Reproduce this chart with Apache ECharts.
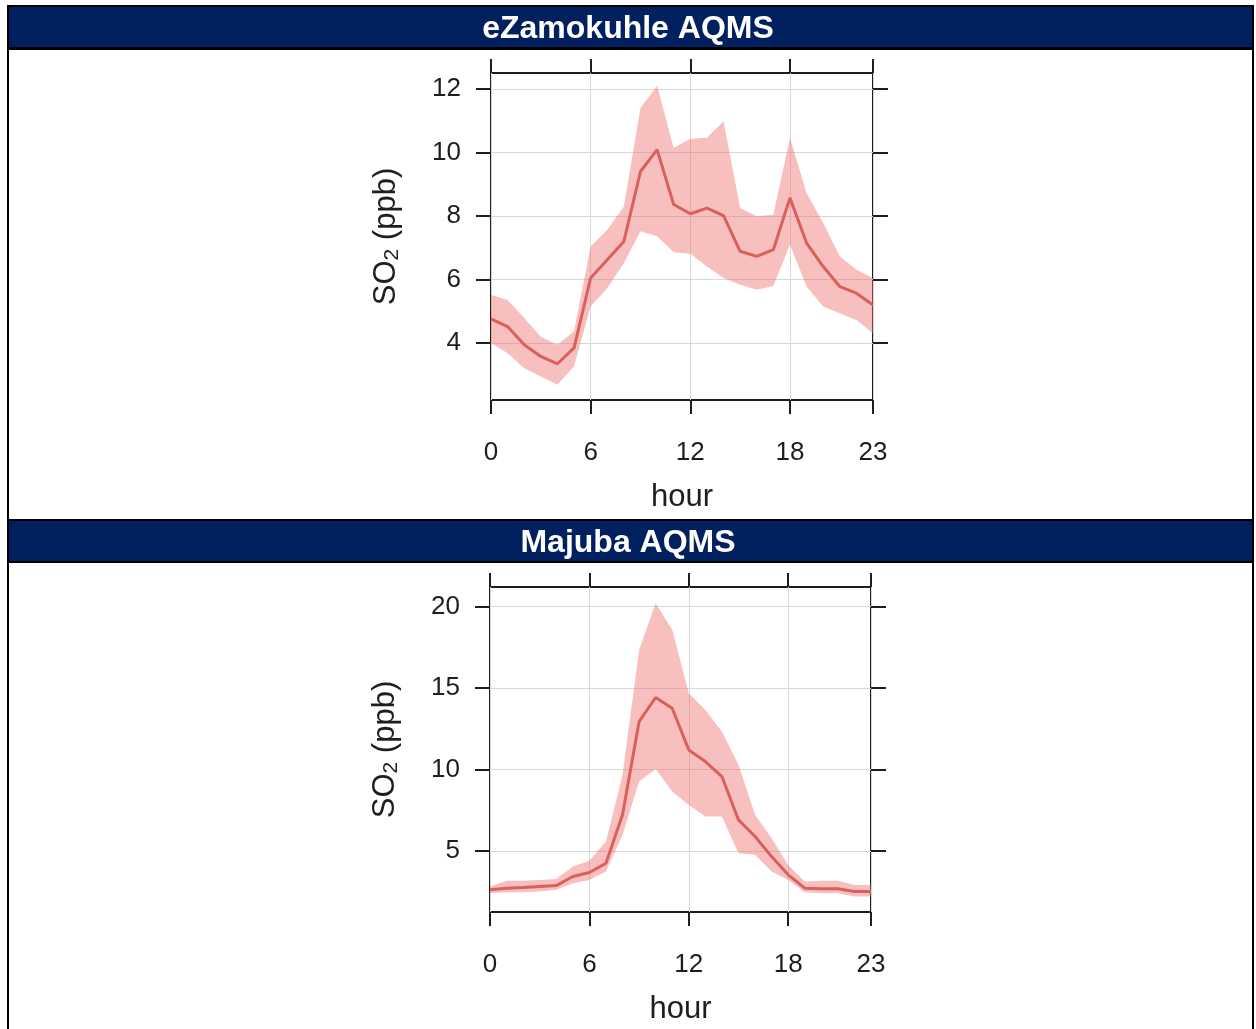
<!DOCTYPE html>
<html>
<head>
<meta charset="utf-8">
<script src="https://cdn.jsdelivr.net/npm/echarts@6/dist/echarts.min.js"></script>
<style>
  html, body { margin: 0; padding: 0; background: #ffffff; }
  #chart { width: 1256px; height: 1029px; }
</style>
</head>
<body>
<div id="chart"></div>
<script>
// Hour of day
const hours = [0, 1, 2, 3, 4, 5, 6, 7, 8, 9, 10, 11, 12, 13, 14, 15, 16, 17, 18, 19, 20, 21, 22, 23];

// eZamokuhle AQMS: diurnal SO2 mean and 95% confidence band (ppb)
const ezMean  = [4.76, 4.52, 3.95, 3.58, 3.35, 3.85, 6.05, 6.62, 7.20, 9.40, 10.09, 8.36, 8.07, 8.25, 8.01, 6.89, 6.73, 6.94, 8.57, 7.15, 6.41, 5.78, 5.57, 5.20];
const ezUpper = [5.52, 5.36, 4.79, 4.20, 3.95, 4.37, 7.04, 7.57, 8.30, 11.40, 12.10, 10.14, 10.43, 10.46, 10.98, 8.25, 7.99, 8.04, 10.46, 8.72, 7.78, 6.73, 6.31, 6.05];
const ezLower = [4.00, 3.68, 3.21, 2.95, 2.69, 3.27, 5.15, 5.73, 6.52, 7.52, 7.36, 6.86, 6.81, 6.41, 6.05, 5.84, 5.68, 5.80, 7.10, 5.78, 5.15, 4.94, 4.73, 4.31];

// Majuba AQMS: diurnal SO2 mean and 95% confidence band (ppb)
const mjMean  = [2.62, 2.72, 2.76, 2.82, 2.88, 3.44, 3.68, 4.25, 7.22, 12.94, 14.42, 13.76, 11.20, 10.49, 9.57, 6.91, 5.89, 4.66, 3.54, 2.72, 2.68, 2.68, 2.52, 2.52];
const mjUpper = [2.82, 3.17, 3.17, 3.23, 3.29, 4.05, 4.40, 5.58, 9.67, 17.34, 20.20, 18.57, 14.68, 13.66, 12.33, 10.29, 7.22, 5.79, 4.15, 3.13, 3.17, 3.17, 2.92, 2.92];
const mjLower = [2.41, 2.47, 2.47, 2.52, 2.62, 3.03, 3.23, 3.74, 5.99, 9.26, 10.04, 8.65, 7.83, 7.12, 7.12, 4.87, 4.77, 3.74, 3.23, 2.47, 2.41, 2.41, 2.21, 2.21];

// Tick labels
const hourTicks = [0, 6, 12, 18, 23];
const ezTicks = [4, 6, 8, 10, 12];
const mjTicks = [5, 10, 15, 20];

const stationNames = ['eZamokuhle AQMS', 'Majuba AQMS'];

const FONT = "'Liberation Sans', Arial, Helvetica, sans-serif";
const TEXT = '#1e1e1e';
const LINE_COLOR = '#d9605d';
const BAND_COLOR = 'rgba(240,112,112,0.45)';
const NAVY = '#002060';

const pairs = (vals) => hours.map((h, i) => [h, vals[i]]);

const panels = [
  { top: 73, height: 327, left: 491, right: 383, yMin: 2.21, yMax: 12.5, ticks: ezTicks, mean: ezMean, upper: ezUpper, lower: ezLower },
  { top: 587, height: 325, left: 490, right: 385, yMin: 1.26, yMax: 21.2, ticks: mjTicks, mean: mjMean, upper: mjUpper, lower: mjLower }
];

const tickStyle = { color: TEXT, width: 2 };

const grids = [], xAxes = [], yAxes = [], series = [];
panels.forEach((p, g) => {
  grids.push({
    left: p.left, right: p.right, top: p.top, height: p.height,
    show: true, borderColor: TEXT, borderWidth: 2, backgroundColor: 'transparent'
  });
  // bottom hour axis
  xAxes.push({
    gridIndex: g, type: 'value', min: 0, max: 23, position: 'bottom',
    axisLine: { show: false, onZero: false },
    axisTick: { show: true, length: 14, lineStyle: tickStyle, customValues: hourTicks },
    axisLabel: { show: true, customValues: hourTicks, fontSize: 26, color: TEXT, fontFamily: FONT, margin: 40 },
    splitLine: { show: true, lineStyle: { color: '#d8d8d8', width: 1 } },
    name: 'hour', nameLocation: 'middle', nameGap: 82,
    nameTextStyle: { fontSize: 31, color: TEXT, fontFamily: FONT }
  });
  // top hour axis (ticks only)
  xAxes.push({
    gridIndex: g, type: 'value', min: 0, max: 23, position: 'top',
    axisLine: { show: false, onZero: false },
    axisTick: { show: true, length: 14, lineStyle: tickStyle, customValues: hourTicks },
    axisLabel: { show: false, customValues: hourTicks },
    splitLine: { show: false }
  });
  // left concentration axis
  yAxes.push({
    gridIndex: g, type: 'value', min: p.yMin, max: p.yMax, position: 'left',
    axisLine: { show: false, onZero: false },
    axisTick: { show: true, length: 15, lineStyle: tickStyle, customValues: p.ticks },
    axisLabel: { show: true, customValues: p.ticks, fontSize: 26, color: TEXT, fontFamily: FONT, margin: 30 },
    splitLine: { show: true, lineStyle: { color: '#d8d8d8', width: 1 } },
    name: 'SO{sub|2} (ppb)', nameLocation: 'middle', nameGap: 88, nameRotate: 90,
    nameTextStyle: {
      fontSize: 31, color: TEXT, fontFamily: FONT,
      rich: { sub: { fontSize: 21, color: TEXT, fontFamily: FONT, verticalAlign: 'bottom', padding: [13, 0, 0, 0] } }
    }
  });
  // right concentration axis (ticks only)
  yAxes.push({
    gridIndex: g, type: 'value', min: p.yMin, max: p.yMax, position: 'right',
    axisLine: { show: false, onZero: false },
    axisTick: { show: true, length: 15, lineStyle: tickStyle, customValues: p.ticks },
    axisLabel: { show: false, customValues: p.ticks },
    splitLine: { show: false }
  });

  const xi = g * 2, yi = g * 2;
  // confidence band drawn as one polygon: upper edge forward, lower edge back
  series.push({
    type: 'custom', xAxisIndex: xi, yAxisIndex: yi, silent: true,
    data: hours.map((h, i) => [h, p.lower[i], p.upper[i]]),
    encode: { x: 0, y: [1, 2] },
    renderItem: (params, api) => {
      if (params.dataIndex !== 0) return null;
      const upperPts = hours.map((h, i) => api.coord([h, p.upper[i]]));
      const lowerPts = hours.map((h, i) => api.coord([h, p.lower[i]])).reverse();
      return {
        type: 'polygon',
        shape: { points: upperPts.concat(lowerPts) },
        style: { fill: BAND_COLOR }
      };
    },
    z: 3
  });
  series.push({
    type: 'line', xAxisIndex: xi, yAxisIndex: yi,
    data: pairs(p.mean), symbol: 'none', silent: true,
    lineStyle: { color: LINE_COLOR, width: 3 }, z: 5
  });
});

// Table frame with navy station header bars
const frame = [
  { type: 'rect', shape: { x: 7, y: 5, width: 1247, height: 45 }, style: { fill: '#000' }, z: -10 },
  { type: 'rect', shape: { x: 9, y: 7, width: 1243, height: 40 }, style: { fill: NAVY }, z: -9 },
  { type: 'rect', shape: { x: 7, y: 519, width: 1247, height: 44 }, style: { fill: '#000' }, z: -10 },
  { type: 'rect', shape: { x: 9, y: 521, width: 1243, height: 40 }, style: { fill: NAVY }, z: -9 },
  { type: 'rect', shape: { x: 7, y: 5, width: 2, height: 1024 }, style: { fill: '#000' }, z: -8 },
  { type: 'rect', shape: { x: 1252, y: 5, width: 2, height: 1024 }, style: { fill: '#000' }, z: -8 }
];

const headerText = { color: '#ffffff', fontSize: 32, fontWeight: 'bold', fontFamily: FONT };

const chart = echarts.init(document.getElementById('chart'), null, { renderer: 'canvas' });
chart.setOption({
  animation: false,
  backgroundColor: '#ffffff',
  title: [
    { text: stationNames[0], left: 'center', top: 13, padding: 0, textStyle: headerText },
    { text: stationNames[1], left: 'center', top: 527, padding: 0, textStyle: headerText }
  ],
  graphic: frame,
  grid: grids,
  xAxis: xAxes,
  yAxis: yAxes,
  series: series
});
</script>
</body>
</html>
